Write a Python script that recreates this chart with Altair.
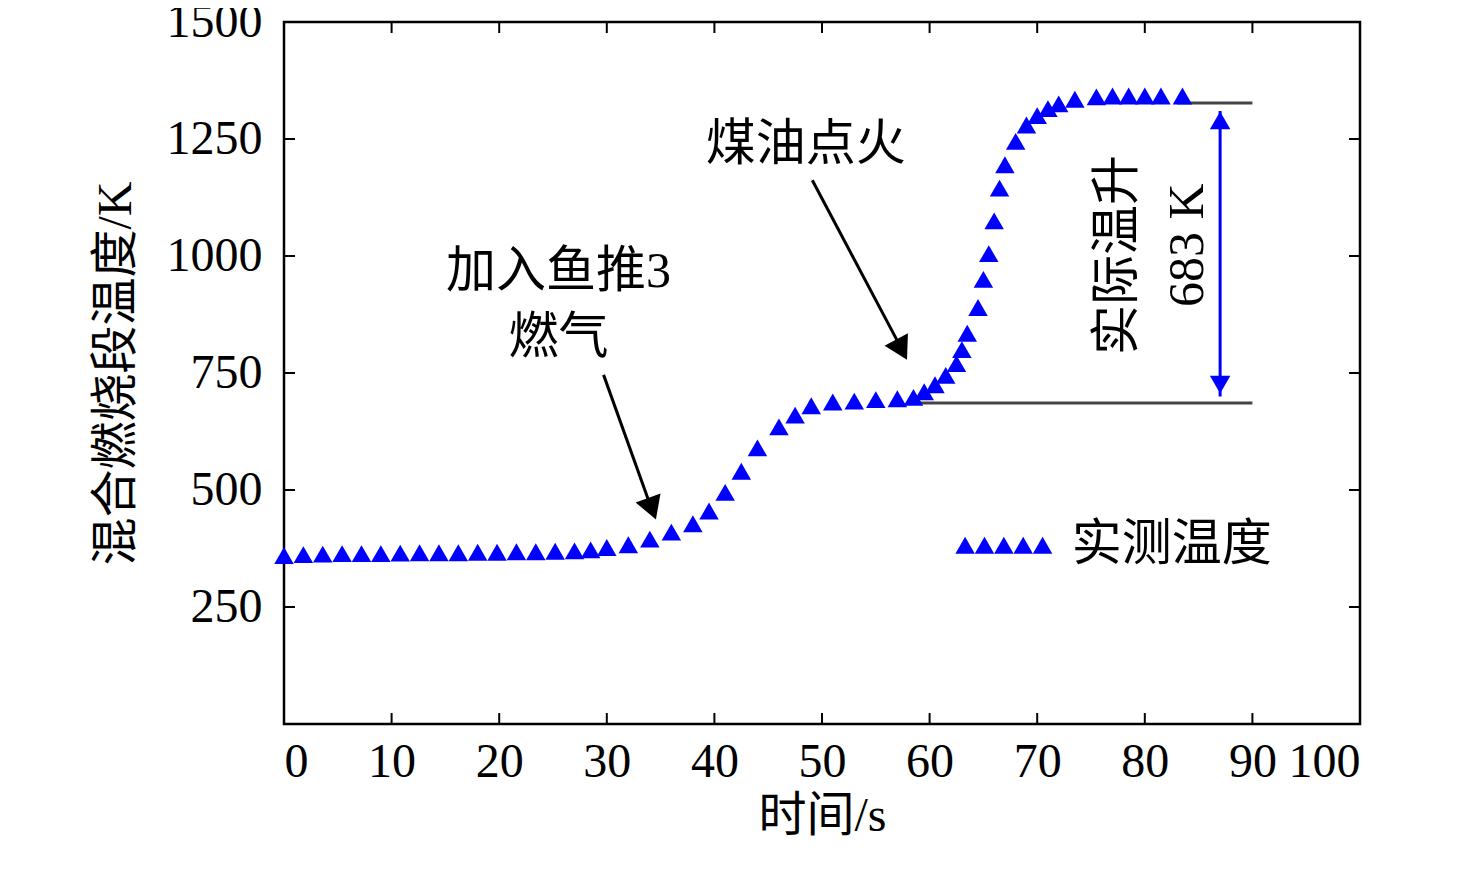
import pandas as pd
import altair as alt

W, H = 1076, 702
FONT = "Liberation Serif, Noto Sans CJK SC"
BLUE = "#0000ff"

t = [0, 1.8, 3.6, 5.4, 7.2, 9, 10.8, 12.6, 14.4, 16.2, 18, 19.8, 21.6, 23.4, 25.2, 27, 28.5,
     30, 32, 34, 36, 38, 39.5, 41, 42.5, 44, 46, 47.5, 49, 51, 53, 55, 57, 58.5,
     59.5, 60.5, 61.5, 62.5, 63, 63.5, 64.5, 65, 65.5, 66, 66.5, 67, 68, 69, 70, 71,
     72, 73.5, 75.5, 77, 78.5, 80, 81.5, 83.5]
temp = [360, 362, 363, 364, 364, 364, 365, 366, 366, 366, 367, 367, 368, 368, 369, 370, 372,
        377, 383, 395, 410, 428, 455, 495, 540, 590, 635, 660, 680, 688, 690, 693, 695, 698,
        710, 725, 745, 770, 800, 835, 890, 950, 1005, 1075, 1145, 1195, 1245, 1280, 1300, 1315,
        1325, 1335, 1340, 1342, 1342, 1342, 1342, 1342]

x_ticks = [0, 10, 20, 30, 40, 50, 60, 70, 80, 90, 100]
y_ticks = [250, 500, 750, 1000, 1250, 1500]

xs = alt.Scale(domain=[0, 100], nice=False)
ys = alt.Scale(domain=[0, 1500], nice=False)

df = pd.DataFrame({"t": t, "temp": temp})
X = alt.X("t:Q", scale=xs, axis=alt.Axis(values=x_ticks, title="时间/s", ticks=False, grid=False,
                                         domain=False, labelPadding=14, titlePadding=6))
Y = alt.Y("temp:Q", scale=ys, axis=alt.Axis(values=y_ticks, format="d", title="混合燃烧段温度/K", ticks=False,
                                            grid=False, domain=False, labelPadding=22, titlePadding=26))

pts = alt.Chart(df).mark_point(shape="triangle-up", filled=True, color=BLUE, size=380, opacity=1).encode(x=X, y=Y)

# inward ticks on all four sides
xt = pd.DataFrame({"t": x_ticks})
yt = pd.DataFrame({"temp": y_ticks})
tick_style = dict(color="black", strokeWidth=2)
ticks = (
    alt.Chart(xt).mark_rule(**tick_style).encode(x=alt.X("t:Q", scale=xs), y=alt.value(H), y2=alt.value(H - 11))
    + alt.Chart(xt).mark_rule(**tick_style).encode(x=alt.X("t:Q", scale=xs), y=alt.value(0), y2=alt.value(11))
    + alt.Chart(yt).mark_rule(**tick_style).encode(y=alt.Y("temp:Q", scale=ys), x=alt.value(0), x2=alt.value(11))
    + alt.Chart(yt).mark_rule(**tick_style).encode(y=alt.Y("temp:Q", scale=ys), x=alt.value(W), x2=alt.value(W - 11))
)

# reference lines for temperature rise
hl = pd.DataFrame({"x1": [58, 83], "x2": [90, 90], "y": [686, 1327]})
hlines = alt.Chart(hl).mark_rule(color="#444444", strokeWidth=3).encode(
    x=alt.X("x1:Q", scale=xs), x2="x2:Q", y=alt.Y("y:Q", scale=ys))

vl = pd.DataFrame({"x": [87], "y1": [700], "y2": [1310]})
vline = alt.Chart(vl).mark_rule(color=BLUE, strokeWidth=3).encode(
    x=alt.X("x:Q", scale=xs), y=alt.Y("y1:Q", scale=ys), y2="y2:Q")
vh = pd.DataFrame({"x": [87, 87], "y": [1290, 725], "a": [0, 180]})
vheads = alt.Chart(vh).mark_point(shape="triangle-up", filled=True, color=BLUE, size=420, opacity=1).encode(
    x=alt.X("x:Q", scale=xs), y=alt.Y("y:Q", scale=ys), angle=alt.Angle("a:Q", scale=None))

# black annotation arrows
arr = pd.DataFrame({"x1": [29.7, 49.1], "y1": [746, 1162], "x2": [34.0, 57.2], "y2": [470, 810]})
arrows = alt.Chart(arr).mark_rule(color="black", strokeWidth=3).encode(
    x=alt.X("x1:Q", scale=xs), y=alt.Y("y1:Q", scale=ys), x2="x2:Q", y2="y2:Q")
ah = pd.DataFrame({"x": [34.2, 57.4], "y": [460, 800], "a": [160, 152]})
aheads = alt.Chart(ah).mark_point(shape="triangle-up", filled=True, color="black", size=700, opacity=1).encode(
    x=alt.X("x:Q", scale=xs), y=alt.Y("y:Q", scale=ys), angle=alt.Angle("a:Q", scale=None))

labels = pd.DataFrame({"x": [25.5, 25.5, 48.5], "y": [966, 825, 1237], "txt": ["加入鱼推3", "燃气", "煤油点火"]})
texts = alt.Chart(labels).mark_text(font=FONT, fontSize=50, color="black", baseline="middle").encode(
    x=alt.X("x:Q", scale=xs), y=alt.Y("y:Q", scale=ys), text="txt:N")

rot = pd.DataFrame({"x": [77.5, 84], "y": [1002, 1023], "txt": ["实际温升", "683 K"]})
rtexts = alt.Chart(rot).mark_text(font=FONT, fontSize=50, color="black", angle=270, baseline="middle").encode(
    x=alt.X("x:Q", scale=xs), y=alt.Y("y:Q", scale=ys), text="txt:N")

# legend
lg = pd.DataFrame({"x": [63.3, 65.1, 66.9, 68.7, 70.5], "y": [382] * 5})
lpts = alt.Chart(lg).mark_point(shape="triangle-up", filled=True, color=BLUE, size=380, opacity=1).encode(
    x=alt.X("x:Q", scale=xs), y=alt.Y("y:Q", scale=ys))
lt = pd.DataFrame({"x": [73.2], "y": [382], "txt": ["实测温度"]})
ltext = alt.Chart(lt).mark_text(font=FONT, fontSize=50, color="black", align="left", baseline="middle").encode(
    x=alt.X("x:Q", scale=xs), y=alt.Y("y:Q", scale=ys), text="txt:N")

chart = (hlines + vline + vheads + arrows + aheads + pts + ticks + texts + rtexts + lpts + ltext).properties(
    width=W, height=H, autosize=alt.AutoSizeParams(type="none"),
    padding={"left": 276, "top": 14, "right": 100, "bottom": 160},
).configure_view(stroke="black", strokeWidth=2.5).configure_axis(
    labelFont=FONT, titleFont=FONT, labelFontSize=48, titleFontSize=48,
    labelColor="black", titleColor="black", titleFontWeight="normal",
).configure_axisX(labelPadding=16)

chart.save("out.html", embed_options={"renderer": "svg", "actions": False})
